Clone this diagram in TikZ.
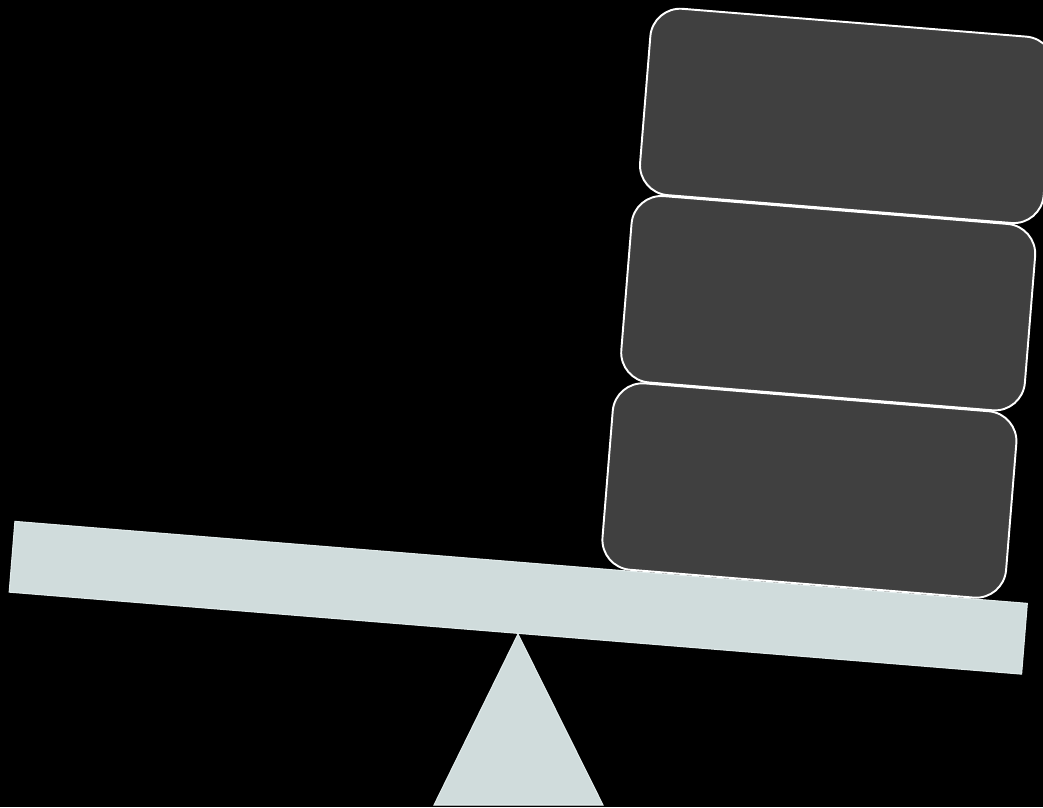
\documentclass[tikz,border=0pt]{standalone}
\usepackage{xcolor}
\usepackage{tikz}
\usetikzlibrary{calc}

\definecolor{plankgray}{RGB}{208,220,220}
\definecolor{plankedge}{RGB}{226,236,236}
\definecolor{weightgray}{RGB}{64,64,64}

\tikzset{
    plankbar/.style={draw=plankedge, fill=plankgray, line width=0.6pt, inner sep=0pt,
        minimum width=20.32cm, minimum height=1.42cm, rotate=-4.63},
    weightbox/.style={draw=white, fill=weightgray, line width=1.1pt, inner sep=0pt,
        rounded corners=0.6cm, minimum width=8.1cm, minimum height=3.74cm, rotate=-4.63}
}

\begin{document}
\begin{tikzpicture}[x=0.02cm, y=-0.02cm]
        % Background and bounding box
        \fill[black] (0,0) rectangle (1043,807);
        \useasboundingbox (0,0) rectangle (1043,807);
        \clip (0,0) rectangle (1043,807);

        % Fulcrum
        \fill[plankgray, draw=plankedge, line width=0.6pt] (518,634) -- (434,805) -- (603,805) -- cycle;

        % Tilted plank
        \node[plankbar] (plank) at (518.25,597.75) {};

        % Stack of weights on the right end
        \foreach \i in {0,1,2}
            \node[weightbox] (weight\i) at ({809.4+18.8*\i},{490.5-187.3*\i}) {};

    \end{tikzpicture}
\end{document}
